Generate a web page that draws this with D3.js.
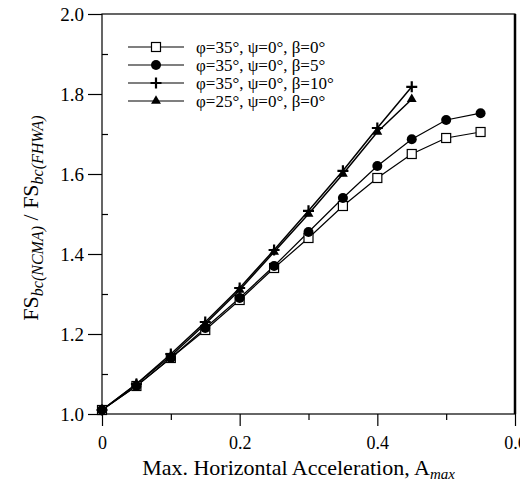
<!DOCTYPE html>
<html>
<head>
<meta charset="utf-8">
<script src="https://cdn.jsdelivr.net/npm/d3@7"></script>
<style>
  body { margin: 0; background: #fff; }
  svg text { font-family: "Liberation Serif", "Times New Roman", "DejaVu Serif", serif !important; fill: #000; }
</style>
</head>
<body>
<script>
// data
var accel = [0, 0.05, 0.1, 0.15, 0.2, 0.25, 0.3, 0.35, 0.4, 0.45, 0.5, 0.55];
var phi35b0  = [1.01, 1.07, 1.14, 1.21, 1.285, 1.365, 1.44, 1.52, 1.59, 1.65, 1.69, 1.705];
var phi35b5  = [1.01, 1.07, 1.14, 1.215, 1.29, 1.37, 1.455, 1.54, 1.62, 1.687, 1.735, 1.752];
var phi35b10 = [1.01, 1.075, 1.15, 1.23, 1.315, 1.41, 1.508, 1.608, 1.715, 1.818];
var phi25b0  = [1.01, 1.075, 1.145, 1.225, 1.31, 1.405, 1.5, 1.6, 1.705, 1.787];
var legendLabels = [
  "\u03c6=35\u00b0, \u03c8=0\u00b0, \u03b2=0\u00b0",
  "\u03c6=35\u00b0, \u03c8=0\u00b0, \u03b2=5\u00b0",
  "\u03c6=35\u00b0, \u03c8=0\u00b0, \u03b2=10\u00b0",
  "\u03c6=25\u00b0, \u03c8=0\u00b0, \u03b2=0\u00b0"
];
var xTicks = [0, 0.2, 0.4, 0.6];
var yTicks = [1.0, 1.2, 1.4, 1.6, 1.8, 2.0];

var series = [
  { vals: phi35b0,  marker: "square" },
  { vals: phi35b5,  marker: "circle" },
  { vals: phi35b10, marker: "plus" },
  { vals: phi25b0,  marker: "triangle" }
];

var serif = "Liberation Serif, Times New Roman, DejaVu Serif, serif";

var margin = {top: 14, right: 5, bottom: 71, left: 102},
    width = 520 - margin.left - margin.right,
    height = 485 - margin.top - margin.bottom;

var x = d3.scaleLinear().domain([0, 0.6]).range([0, width]);
var y = d3.scaleLinear().domain([1.0, 2.0]).range([height, 0]);

var svg = d3.select("body").append("svg")
    .attr("width", 520)
    .attr("height", 485)
    .attr("font-family", serif);
var g = svg.append("g")
    .attr("transform", "translate(" + margin.left + "," + margin.top + ")");

// frame
g.append("rect")
    .attr("width", width).attr("height", height)
    .attr("fill", "none").attr("stroke", "#000").attr("stroke-width", 1.2);
g.append("line")
    .attr("x1", width).attr("x2", width).attr("y1", 0).attr("y2", height)
    .attr("stroke", "#000").attr("stroke-width", 2.5);

// x axis
var xAxis = g.append("g")
    .attr("transform", "translate(0," + height + ")")
    .call(d3.axisBottom(x).tickValues(xTicks).tickSize(12).tickSizeOuter(0)
      .tickFormat(function(d) { return d === 0 ? "0" : d3.format(".1f")(d); }));
xAxis.attr("font-family", serif).select(".domain").remove();
xAxis.selectAll("text").attr("font-size", 18).attr("dy", "1.1em");
g.append("g")
    .attr("transform", "translate(0," + height + ")")
    .call(d3.axisBottom(x).tickValues([0.1, 0.3, 0.5]).tickSize(6).tickFormat(""))
    .select(".domain").remove();

// y axis
var yAxis = g.append("g")
    .call(d3.axisLeft(y).tickValues(yTicks).tickSize(14).tickSizeOuter(0)
      .tickFormat(d3.format(".1f")));
yAxis.attr("font-family", serif).select(".domain").remove();
yAxis.selectAll("text").attr("font-size", 19).attr("dx", "-0.05em");
g.append("g")
    .call(d3.axisLeft(y).tickValues([1.1, 1.3, 1.5, 1.7, 1.9]).tickSize(-6).tickFormat(""))
    .select(".domain").remove();
g.selectAll(".tick line").attr("stroke", "#000").attr("stroke-width", 1.2);

// lines
var line = d3.line()
    .x(function(d, i) { return x(accel[i]); })
    .y(function(d) { return y(d); });

function drawMarker(sel, type) {
  if (type === "square") {
    sel.append("rect").attr("x", -4.5).attr("y", -4.5).attr("width", 9).attr("height", 9)
      .attr("fill", "#fff").attr("stroke", "#000").attr("stroke-width", 1.2);
  } else if (type === "circle") {
    sel.append("circle").attr("r", 5).attr("fill", "#000");
  } else if (type === "plus") {
    sel.append("path").attr("d", "M-5.5,0H5.5M0,-5.5V5.5").attr("stroke", "#000").attr("stroke-width", 2.2);
  } else {
    sel.append("path").attr("d", d3.symbol().type(d3.symbolTriangle).size(42)())
      .attr("fill", "#000");
  }
}

series.forEach(function(s, k) {
  g.append("path")
      .datum(s.vals)
      .attr("fill", "none")
      .attr("stroke", "#000")
      .attr("stroke-width", k >= 2 ? 1.5 : 1.2)
      .attr("d", line);
});
series.forEach(function(s) {
  g.selectAll(null)
      .data(s.vals)
    .enter().append("g")
      .attr("transform", function(d, i) { return "translate(" + x(accel[i]) + "," + y(d) + ")"; })
      .each(function() { drawMarker(d3.select(this), s.marker); });
});

// legend
var legend = svg.append("g").attr("transform", "translate(128,47)");
series.forEach(function(s, i) {
  var row = legend.append("g").attr("transform", "translate(0," + (i * 18) + ")");
  row.append("line").attr("x1", 0).attr("x2", 56).attr("stroke", "#000").attr("stroke-width", 1.2);
  drawMarker(row.append("g").attr("transform", "translate(28,0)"), s.marker);
  row.append("text").attr("x", 68).attr("y", 5.5).attr("font-size", 17).text(legendLabels[i]);
});

// axis titles
var xt = svg.append("text")
    .attr("x", margin.left + width / 2 - 10)
    .attr("y", 475)
    .attr("text-anchor", "middle")
    .attr("font-size", 22);
xt.append("tspan").text("Max. Horizontal Acceleration, A");
xt.append("tspan").attr("dy", 4).attr("font-size", 15).attr("font-style", "italic").text("max");

var yt = svg.append("text")
    .attr("transform", "translate(38,218) rotate(-90)")
    .attr("text-anchor", "middle")
    .attr("font-size", 22);
yt.append("tspan").text("FS");
yt.append("tspan").attr("dy", 5).attr("font-size", 16).attr("font-style", "italic").text("bc(NCMA)");
yt.append("tspan").attr("dy", -5).text(" / FS");
yt.append("tspan").attr("dy", 5).attr("font-size", 16).attr("font-style", "italic").text("bc(FHWA)");
</script>
</body>
</html>
